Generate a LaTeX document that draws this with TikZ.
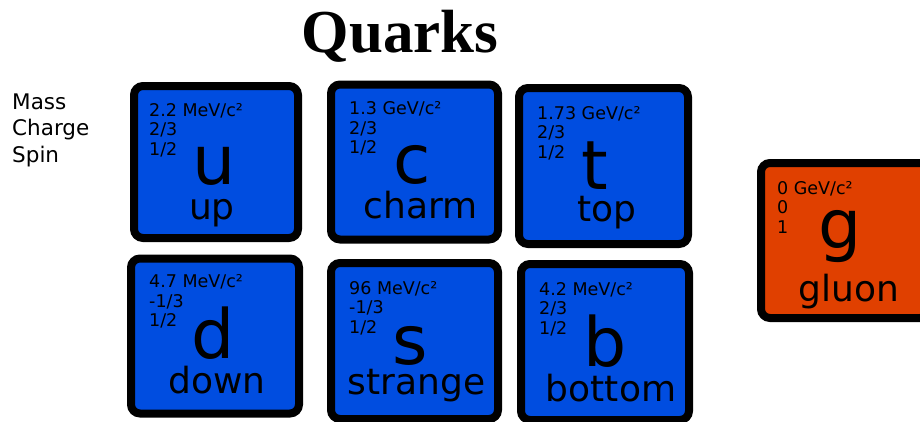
\documentclass[tikz,border=0pt]{standalone}
\usepackage{fontspec}
\setmainfont{DejaVu Sans}
\newfontfamily\titlefont{Liberation Serif}
\usepackage{xcolor}
\usepackage{tikz}
\usetikzlibrary{calc}
\definecolor{quarkblue}{RGB}{0,77,224}
\definecolor{gluonred}{RGB}{224,64,0}
\tikzset{
  card/.style={rectangle, rounded corners=9pt, draw=black, line width=8pt,
               fill=quarkblue, inner sep=0pt, minimum width=167pt, minimum height=155pt},
  meta/.style={anchor=base west, align=left, inner sep=0pt,
               font=\fontsize{17.5}{19.5}\selectfont},
  symb/.style={anchor=base, inner sep=0pt, font=\fontsize{68}{68}\selectfont},
  word/.style={anchor=base, inner sep=0pt, font=\fontsize{36}{36}\selectfont},
}

\begin{document}
\begin{tikzpicture}[x=1pt, y=-1pt]
  \useasboundingbox (0,0) rectangle (920,421);
  \node[anchor=base, inner sep=0pt, font=\titlefont\bfseries\fontsize{61}{61}\selectfont] (title) at (400,52) {Quarks};
  % base of a multi-line node = last line
  \node[meta, font=\fontsize{21.5}{26.5}\selectfont] (legend) at (12,162) {Mass\\Charge\\Spin};
  % top row
  \node[card, minimum width=164pt, minimum height=152pt] (u) at (216,162) {};
  \node[card] (c) at (414.5,162) {};
  \node[card, minimum width=169pt, minimum height=156pt] (t) at (603.5,166) {};
  % bottom row
  \node[card, minimum width=168pt] (d) at (215,336) {};
  \node[card, minimum height=156pt] (s) at (414.5,341) {};
  \node[card, minimum width=168pt, minimum height=156pt] (b) at (605,342) {};
  % gluon
  \node[card, fill=gluonred, minimum width=168pt] (g) at (845,240.5) {};
  % data
  \node[meta] (u-meta) at ($(u.north west)+(19,73)$) {2.2 MeV/c²\\2/3\\1/2};
  \node[meta] (c-meta) at ($(c.north west)+(22,73)$) {1.3 GeV/c²\\2/3\\1/2};
  \node[meta] (t-meta) at ($(t.north west)+(22,74)$) {1.73 GeV/c²\\2/3\\1/2};
  \node[meta] (d-meta) at ($(d.north west)+(22,72)$) {4.7 MeV/c²\\-1/3\\1/2};
  \node[meta] (s-meta) at ($(s.north west)+(22,74)$) {96 MeV/c²\\-1/3\\1/2};
  \node[meta] (b-meta) at ($(b.north west)+(22,74)$) {4.2 MeV/c²\\2/3\\1/2};
  \node[meta] (g-meta) at ($(g.north west)+(20,74)$) {0 GeV/c²\\0\\1};
  % symbols and names
  \node[symb] (u-sym) at ($(u.north)+(-2,102)$) {u};
  \node[word] (u-name) at ($(u.north)+(-4,137)$) {up};
  \node[symb] (c-sym) at ($(c.north)+(-2,103)$) {c};
  \node[word] (c-name) at ($(c.north)+(6,138)$) {charm};
  \node[symb] (t-sym) at ($(t.north)+(-9,105)$) {t};
  \node[word] (t-name) at ($(t.north)+(3,137)$) {top};
  \node[symb] (d-sym) at ($(d.north)+(-2,104)$) {d};
  \node[word] (d-name) at ($(d.north)+(2,139)$) {down};
  \node[symb] (s-sym) at ($(s.north)+(-4,105)$) {s};
  \node[word] (s-name) at ($(s.north)+(2,135)$) {strange};
  \node[symb] (b-sym) at ($(b.north)+(0,106)$) {b};
  \node[word] (b-name) at ($(b.north)+(6,141)$) {bottom};
  \node[symb] (g-sym) at ($(g.north)+(-5,89)$) {g};
  \node[word] (g-name) at ($(g.north)+(4,142)$) {gluon};
\end{tikzpicture}
\end{document}
